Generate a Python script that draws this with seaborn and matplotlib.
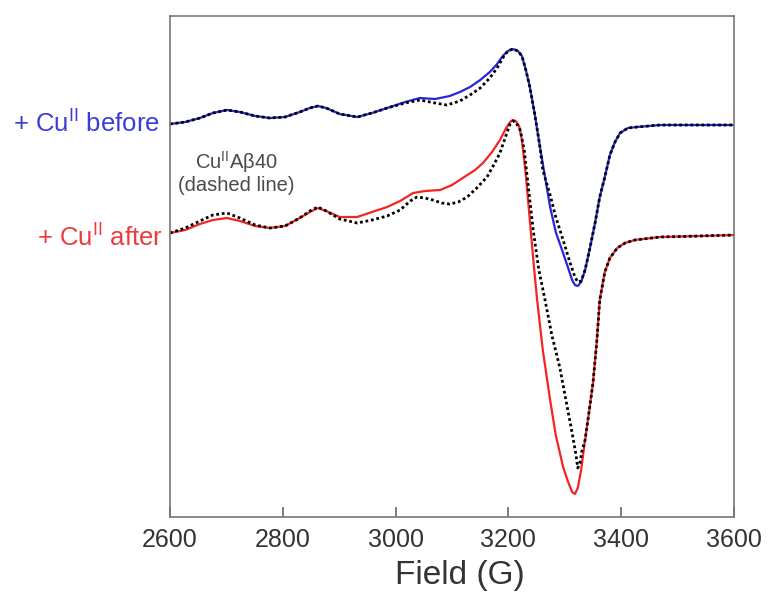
import numpy as np
import pandas as pd
import matplotlib
matplotlib.use("Agg")
import matplotlib.pyplot as plt
import seaborn as sns

# EPR spectra (derivative signal, arbitrary units, baseline = 0)
before_field = [2600, 2627, 2653, 2676, 2701, 2724, 2751, 2777, 2804, 2830, 2848, 2862,
                2877, 2901, 2932, 2958, 2985, 3017, 3043, 3070, 3096, 3114, 3132, 3150,
                3167, 3180, 3190, 3199, 3208, 3217, 3224, 3231, 3238, 3247, 3256, 3265,
                3274, 3284, 3297, 3306, 3313, 3318, 3323, 3329, 3336, 3345, 3354, 3362,
                3371, 3380, 3389, 3398, 3412, 3428, 3469, 3540, 3600]
before_signal = [1, 3, 7, 12, 15, 13, 9, 7, 8, 13, 17, 19,
                 17, 11, 8, 12, 17, 23, 27, 26, 29, 33, 38, 45,
                 53, 61, 69, 74, 76, 74, 69, 55, 38, 10, -22, -52,
                 -82, -107, -128, -143, -155, -160, -161, -157, -145, -122, -97, -72,
                 -52, -30, -17, -8, -3, -2, 0, 0, 0]

abeta_before_field = [2600, 2627, 2653, 2676, 2701, 2724, 2751, 2777, 2804, 2830, 2848, 2862,
                      2877, 2901, 2932, 2958, 2985, 3017, 3043, 3070, 3091, 3114, 3132, 3150,
                      3167, 3180, 3190, 3199, 3208, 3217, 3224, 3231, 3238, 3247, 3256, 3261,
                      3274, 3284, 3297, 3309, 3318, 3323, 3329, 3336, 3345, 3354, 3362,
                      3371, 3380, 3389, 3398, 3412, 3428, 3469, 3540, 3600]
abeta_before_signal = [1, 3, 7, 12, 15, 13, 9, 7, 8, 13, 17, 19,
                       17, 11, 8, 12, 17, 22, 25, 22, 20, 24, 30, 37,
                       47, 57, 67, 74, 76, 74, 69, 55, 38, 10, -22, -45,
                       -70, -92, -115, -137, -152, -157, -156, -145, -122, -97, -72,
                       -52, -30, -17, -8, -3, -2, 0, 0, 0]

after_field = [2600, 2627, 2653, 2676, 2701, 2724, 2751, 2777, 2804, 2830, 2848, 2862,
               2877, 2901, 2932, 2958, 2985, 3008, 3031, 3052, 3079, 3100, 3119, 3141,
               3155, 3171, 3185, 3196, 3203, 3208, 3213, 3219, 3224, 3231, 3238, 3245,
               3251, 3261, 3274, 3284, 3297, 3306, 3313, 3318, 3323, 3329, 3336, 3343,
               3350, 3357, 3362, 3371, 3380, 3393, 3407, 3424, 3469, 3540, 3600]
after_signal = [2, 5, 11, 15, 17, 14, 9, 7, 9, 17, 23, 27,
                24, 18, 18, 23, 28, 34, 42, 44, 45, 50, 57, 65,
                72, 83, 95, 107, 113, 115, 114, 109, 95, 60, 15, -30,
                -65, -115, -165, -200, -232, -247, -257, -259, -253, -235, -205, -177,
                -148, -105, -65, -37, -23, -13, -8, -5, -2, -1, 0]

abeta_after_field = [2600, 2627, 2653, 2676, 2701, 2724, 2751, 2777, 2804, 2830, 2848, 2862,
                     2877, 2901, 2932, 2958, 2985, 3008, 3026, 3038, 3052, 3066, 3082, 3096,
                     3111, 3127, 3144, 3162, 3174, 3185, 3196, 3203, 3208, 3213, 3221, 3228,
                     3235, 3244, 3254, 3265, 3277, 3291, 3302, 3313, 3320, 3323, 3327, 3330,
                     3336, 3343, 3350, 3357, 3362, 3371, 3380, 3393, 3407, 3424, 3469, 3540,
                     3600]
abeta_after_signal = [2, 7, 14, 20, 22, 17, 10, 7, 9, 17, 24, 28,
                      24, 16, 12, 15, 19, 25, 34, 38, 37, 35, 32, 31,
                      33, 38, 47, 58, 70, 82, 100, 111, 114, 113, 105, 85,
                      50, 5, -35, -65, -100, -132, -165, -198, -220, -233, -228, -217,
                      -205, -177, -148, -105, -65, -37, -23, -13, -8, -5, -2, -1,
                      0]

before_offset = 392
after_offset = 282

sns.set_style("ticks")
plt.rcParams['font.family'] = ['Liberation Sans', 'DejaVu Sans']
plt.rcParams['mathtext.fontset'] = 'custom'
plt.rcParams['mathtext.rm'] = 'Liberation Sans'

fig = plt.figure(figsize=(7.7, 6.02), dpi=100)
ax = fig.add_axes([0.2208, 0.1412, 0.7324, 0.8322])

sns.lineplot(x=before_field, y=np.array(before_signal) + before_offset, ax=ax,
             color='#2626d8', linewidth=1.6)
sns.lineplot(x=after_field, y=np.array(after_signal) + after_offset, ax=ax,
             color='#f22424', linewidth=1.6)
sns.lineplot(x=abeta_before_field, y=np.array(abeta_before_signal) + before_offset, ax=ax,
             color='black', linewidth=2.0, linestyle=(0, (1, 1)))
sns.lineplot(x=abeta_after_field, y=np.array(abeta_after_signal) + after_offset, ax=ax,
             color='black', linewidth=2.0, linestyle=(0, (1, 1)))

ax.set_xlim(2600, 3600)
ax.set_ylim(0, 501)
ax.set_xticks([2600, 2800, 3000, 3200, 3400, 3600])
ax.set_yticks([])
ax.tick_params(axis='x', direction='in', length=7, width=1.2, color='#666666',
               labelsize=18, labelcolor='#333333', pad=8, bottom=True, top=False)
ax.tick_params(axis='y', left=False, right=False)
for s in ax.spines.values():
    s.set_visible(True)
    s.set_color('#777777')
    s.set_linewidth(1.2)
ax.set_xlabel('Field (G)', fontsize=24, color='#333333', labelpad=6)
ax.xaxis.set_label_coords(0.514, -0.085)
ax.set_ylabel('')

fig.text(160 / 770, 1 - 123 / 602, r'+ Cu$^{\mathrm{II}}$ before', color='#3c3cd6',
         fontsize=18.5, ha='right', va='center')
fig.text(163 / 770, 1 - 237 / 602, r'+ Cu$^{\mathrm{II}}$ after', color='#ee3a3a',
         fontsize=18.5, ha='right', va='center')
ax.text(2717, 355, r'Cu$^{\mathrm{II}}$Aβ40', color='#4a4a4a', fontsize=14.5,
        ha='center', va='center')
ax.text(2717, 332, '(dashed line)', color='#4a4a4a', fontsize=14.5,
        ha='center', va='center')

fig.savefig('out.png', dpi=100)
